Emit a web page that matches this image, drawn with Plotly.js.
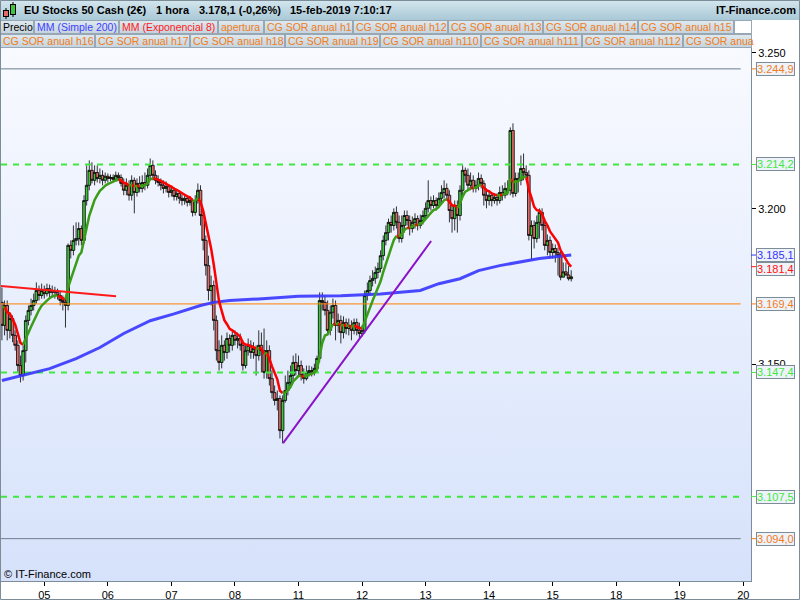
<!DOCTYPE html>
<html><head><meta charset="utf-8">
<script src="https://cdn.plot.ly/plotly-3.0.1.min.js"></script>
<style>html,body{margin:0;padding:0;background:#fff;}#chart{width:800px;height:600px;}</style>
</head><body><div id="chart"></div>
<script>
// ---------------- DATA ----------------
const dayTickIdx = [16,40,64,88,112,136,160,184,208,232,256,280];
const dayTickText = ['05','06','07','08','11','12','13','14','15','18','19','20'];

const openP = [
3169.9,3162.5,3168.9,3160.9,3164.7,3159.3,3156.1,3149.6,3146.4,3154.4,
3164.1,3167.3,3168.9,3170.5,3173.7,3172.1,3173.7,3172.7,3174.3,3173.1,
3173.7,3173.1,3172.1,3170.5,3169.9,3168.9,3188.2,3186.6,3189.8,3190.4,
3193.6,3189.8,3202.6,3207.5,3212.3,3209.1,3211.6,3209.7,3210.7,3209.1,
3210.4,3209.7,3210.0,3209.4,3210.7,3210.0,3208.1,3205.9,3207.5,3204.3,
3209.1,3205.2,3208.1,3206.5,3208.4,3207.5,3210.7,3213.9,3210.7,3209.1,
3208.4,3207.5,3206.5,3207.1,3205.2,3205.9,3203.9,3204.9,3203.3,3202.6,
3203.3,3202.0,3202.6,3198.8,3202.6,3205.9,3197.8,3189.8,3181.7,3173.7,
3175.3,3164.1,3154.4,3150.6,3156.1,3153.8,3158.3,3156.1,3159.3,3157.7,
3158.3,3156.1,3149.6,3154.4,3156.1,3153.8,3155.1,3152.8,3156.1,3154.4,
3147.4,3154.4,3145.4,3140.9,3138.4,3139.0,3128.7,3138.4,3141.6,3144.2,
3146.4,3150.6,3148.0,3149.6,3146.4,3145.4,3147.4,3148.0,3147.4,3148.7,
3151.9,3170.5,3169.9,3167.3,3160.9,3166.7,3168.9,3162.5,3164.1,3160.2,
3163.4,3161.5,3162.5,3160.9,3163.4,3160.9,3159.9,3160.9,3172.1,3173.7,
3176.9,3177.6,3179.5,3180.8,3184.9,3189.8,3192.3,3195.6,3194.6,3198.8,
3195.6,3190.4,3194.6,3197.8,3196.2,3193.6,3195.6,3196.8,3194.6,3196.2,
3197.8,3200.1,3202.6,3201.0,3202.6,3201.0,3203.3,3205.2,3206.5,3204.3,
3199.4,3196.8,3201.0,3197.8,3205.9,3212.3,3210.7,3207.5,3209.1,3206.5,
3207.5,3209.7,3208.1,3204.3,3202.6,3204.3,3202.6,3203.6,3202.6,3205.2,
3204.3,3206.5,3205.9,3225.1,3204.9,3209.7,3209.1,3212.9,3211.6,3210.7,
3191.4,3194.6,3190.4,3195.6,3198.8,3194.6,3188.2,3189.8,3185.9,3187.2,
3185.9,3185.0,3178.0,3179.7,3178.7,3177.5];

const highP = [
3174.7,3170.5,3170.5,3166.7,3165.7,3160.9,3157.7,3152.8,3156.1,3165.7,
3168.9,3171.1,3172.7,3176.3,3175.3,3175.9,3175.3,3175.9,3175.6,3175.3,
3174.9,3174.3,3173.4,3172.1,3171.8,3188.8,3189.8,3194.6,3195.6,3195.6,
3194.6,3204.3,3213.9,3215.5,3214.9,3213.9,3213.9,3212.9,3212.3,3211.6,
3211.3,3211.0,3211.0,3211.9,3211.6,3211.0,3209.7,3209.7,3209.1,3210.7,
3210.0,3209.7,3210.4,3210.7,3211.6,3212.9,3216.1,3215.5,3212.3,3210.7,
3209.7,3209.1,3208.8,3207.8,3207.1,3206.8,3206.2,3205.9,3204.6,3204.3,
3203.9,3203.9,3203.3,3204.3,3208.1,3207.5,3199.4,3191.4,3184.9,3178.5,
3176.9,3165.7,3157.7,3159.3,3157.7,3160.2,3159.6,3160.9,3160.9,3160.2,
3159.9,3157.7,3156.1,3158.3,3157.7,3157.1,3156.1,3160.9,3160.2,3161.5,
3157.7,3156.1,3148.0,3143.2,3141.6,3140.0,3140.0,3146.4,3148.0,3149.6,
3152.8,3153.5,3152.8,3151.2,3148.7,3149.6,3149.6,3149.3,3150.2,3152.8,
3173.1,3173.1,3172.1,3170.5,3168.9,3171.1,3170.5,3166.3,3165.7,3165.4,
3164.7,3164.7,3164.1,3164.7,3164.7,3163.4,3162.5,3173.7,3176.3,3178.5,
3180.2,3181.4,3182.7,3186.6,3191.4,3194.6,3196.8,3197.8,3200.1,3200.7,
3197.8,3197.8,3199.4,3199.4,3197.8,3197.5,3198.5,3197.8,3198.1,3199.4,
3202.0,3209.1,3203.9,3204.3,3203.6,3205.2,3207.5,3209.1,3208.1,3205.9,
3201.6,3202.6,3202.6,3207.5,3213.9,3213.2,3212.9,3211.6,3210.7,3209.1,
3211.6,3211.0,3209.1,3206.5,3205.9,3205.2,3204.9,3204.9,3207.1,3207.5,
3208.4,3209.1,3226.1,3227.4,3211.6,3211.6,3217.1,3217.7,3213.9,3212.3,
3196.2,3196.2,3197.8,3200.1,3200.1,3196.8,3191.7,3191.1,3188.8,3188.5,
3187.5,3186.6,3182.7,3182.7,3181.7,3180.2];

const lowP = [
3157.7,3159.3,3157.7,3158.3,3157.1,3154.4,3147.4,3144.2,3144.8,3150.6,
3162.5,3165.7,3167.3,3169.5,3170.5,3171.1,3171.1,3171.8,3171.4,3171.8,
3171.1,3170.8,3168.9,3167.3,3161.8,3167.3,3184.0,3185.0,3188.2,3188.2,
3188.2,3188.8,3201.0,3205.9,3208.1,3207.5,3208.4,3208.1,3207.5,3208.1,
3208.4,3208.8,3208.4,3208.8,3209.1,3207.1,3204.3,3204.3,3202.6,3202.6,
3198.5,3203.9,3205.2,3205.2,3205.9,3206.5,3209.7,3209.1,3207.8,3207.1,
3205.9,3204.9,3205.2,3203.6,3203.9,3202.6,3202.6,3201.6,3201.0,3201.3,
3200.7,3201.0,3197.5,3197.8,3201.6,3194.6,3186.6,3178.5,3170.5,3168.9,
3160.9,3151.2,3148.0,3148.7,3151.2,3151.8,3153.8,3154.4,3156.1,3155.1,
3154.4,3148.0,3148.7,3152.8,3151.8,3151.8,3146.4,3151.2,3147.4,3145.4,
3145.4,3143.2,3139.0,3136.8,3135.2,3126.2,3124.6,3137.7,3140.0,3142.2,
3144.8,3146.4,3146.4,3144.8,3143.8,3144.8,3146.1,3146.1,3146.4,3147.4,
3150.6,3167.3,3165.7,3159.3,3159.3,3164.7,3157.7,3160.2,3156.7,3158.3,
3159.6,3159.3,3157.7,3159.6,3159.3,3158.3,3158.9,3159.9,3170.5,3172.1,
3175.0,3175.9,3177.6,3179.5,3183.4,3188.2,3189.8,3192.3,3193.0,3193.6,
3189.1,3189.1,3192.3,3194.6,3191.4,3192.3,3193.6,3193.0,3193.6,3194.9,
3196.8,3198.8,3199.4,3200.1,3199.4,3200.1,3201.6,3203.3,3202.6,3195.6,
3192.3,3193.0,3192.3,3196.2,3204.3,3208.4,3205.9,3205.9,3205.2,3205.2,
3205.9,3206.5,3201.0,3200.1,3201.0,3200.7,3201.6,3201.0,3201.6,3202.6,
3203.3,3204.3,3204.3,3203.6,3203.9,3205.2,3207.5,3209.1,3209.1,3189.8,
3183.4,3187.2,3189.1,3190.4,3193.0,3186.6,3185.0,3184.0,3184.0,3182.7,
3178.5,3177.0,3177.9,3178.5,3176.9,3176.6];

const closeP = [
3162.5,3168.9,3160.9,3164.7,3159.3,3156.1,3149.6,3146.4,3154.4,3164.1,
3167.3,3168.9,3170.5,3173.7,3172.1,3173.7,3172.7,3174.3,3173.1,3173.7,
3173.1,3172.1,3170.5,3169.9,3168.9,3188.2,3186.6,3189.8,3190.4,3193.6,
3189.8,3202.6,3207.5,3212.3,3209.1,3211.6,3209.7,3210.7,3209.1,3210.4,
3209.7,3210.0,3209.4,3210.7,3210.0,3208.1,3205.9,3207.5,3204.3,3209.1,
3205.2,3208.1,3206.5,3208.4,3207.5,3210.7,3213.9,3210.7,3209.1,3208.4,
3207.5,3206.5,3207.1,3205.2,3205.9,3203.9,3204.9,3203.3,3202.6,3203.3,
3202.0,3202.6,3198.8,3202.6,3205.9,3197.8,3189.8,3181.7,3173.7,3175.3,
3164.1,3154.4,3150.6,3156.1,3153.8,3158.3,3156.1,3159.3,3157.7,3158.3,
3156.1,3149.6,3154.4,3156.1,3153.8,3155.1,3152.8,3156.1,3154.4,3147.4,
3154.4,3145.4,3140.9,3138.4,3139.0,3128.7,3138.4,3141.6,3144.2,3146.4,
3150.6,3148.0,3149.6,3146.4,3145.4,3147.4,3148.0,3147.4,3148.7,3151.9,
3170.5,3169.9,3167.3,3160.9,3166.7,3168.9,3162.5,3164.1,3160.2,3163.4,
3161.5,3162.5,3160.9,3163.4,3160.9,3159.9,3160.9,3172.1,3173.7,3176.9,
3177.6,3179.5,3180.8,3184.9,3189.8,3192.3,3195.6,3194.6,3198.8,3195.6,
3190.4,3194.6,3197.8,3196.2,3193.6,3195.6,3196.8,3194.6,3196.2,3197.8,
3200.1,3202.6,3201.0,3202.6,3201.0,3203.3,3205.2,3206.5,3204.3,3199.4,
3196.8,3201.0,3197.8,3205.9,3212.3,3210.7,3207.5,3209.1,3206.5,3207.5,
3209.7,3208.1,3204.3,3202.6,3204.3,3202.6,3203.6,3202.6,3205.2,3204.3,
3206.5,3205.9,3225.1,3204.9,3209.7,3209.1,3212.9,3211.6,3210.7,3191.4,
3194.6,3190.4,3195.6,3198.8,3194.6,3188.2,3189.8,3185.9,3187.2,3185.9,
3185.0,3178.0,3179.7,3178.7,3177.5,3178.1];

// Simple moving average 200 (at these bars)
const smaIdx = [0,9,18,28,37,46,56,65,75,80,86,97,112,128,143,158,165,173,180,188,196,203,215];
const smaVal = [3144.8,3146.7,3148.6,3151.8,3155.4,3159.9,3164.0,3166.2,3168.9,3169.9,3170.5,3171.0,3171.9,3172.0,3172.6,3173.7,3175.9,3177.5,3180.1,3181.7,3182.8,3184.0,3185.1];

// Exponential moving average 8
const emaPeriod = 8;
const emaStart = 3169.9;

// Horizontal levels: resistance/support, opening
const levelVals = [3244.9, 3214.2, 3169.4, 3147.4, 3107.5, 3094.0];
const levelKind = ['sor', 'dash', 'open', 'dash', 'dash', 'sor'];

// Trend lines (bar index, price)
const redTrendX = [-0.7, 43.1];
const redTrendY = [3175.2, 3171.9];
const purpleTrendX = [106.2, 162.1];
const purpleTrendY = [3124.7, 3189.6];

const instrument = 'EU Stocks 50 Cash (2€)';
const timeframe = '1 hora';
const pctChange = -0.26;
const stamp = '15-feb-2019 7:10:17';
const siteName = 'IT-Finance.com';

const legendRow1 = ['Precio','MM (Simple 200)','MM (Exponencial 8)','apertura','CG SOR anual h1','CG SOR anual h12','CG SOR anual h13','CG SOR anual h14','CG SOR anual h15'];
const legendRow2 = ['CG SOR anual h16','CG SOR anual h17','CG SOR anual h18','CG SOR anual h19','CG SOR anual h110','CG SOR anual h111','CG SOR anual h112','CG SOR anua'];

// ---------------- LAYOUT HELPERS ----------------
const FONT = 'Liberation Sans, Arial, sans-serif';
const PL = 1, PR = 751, PT = 48, PB = 581;
const Y0 = 3080.4, Y1 = 3251.6;
const px = x => (x - PL) / (PR - PL);
const py = y => (PB - y) / (PB - PT);
const pxPerPt = (PB - PT) / (Y1 - Y0);

function fmt(v, dec) {
  const s = Math.abs(v).toFixed(dec);
  const parts = s.split('.');
  const ip = parts[0].replace(/\B(?=(\d{3})+(?!\d))/g, '.');
  return (v < 0 ? '-' : '') + ip + (parts[1] !== undefined ? ',' + parts[1] : '');
}

const C_ORANGE = '#f07c1c', C_GREEN = '#3fe83f', C_BLUE = '#3535ff', C_RED = '#ff1010';

// ---------------- TRACES ----------------
const idx = closeP.map((_, i) => i);
const traces = [];

traces.push({
  type: 'candlestick', x: idx, open: openP, high: highP, low: lowP, close: closeP,
  increasing: {line: {color: '#000', width: 0.8}, fillcolor: '#3ec43e'},
  decreasing: {line: {color: '#000', width: 0.8}, fillcolor: '#e26a6a'},
  whiskerwidth: 0, hoverinfo: 'skip', showlegend: false
});

const levelEnd = 279;
levelVals.forEach((v, k) => {
  const kind = levelKind[k];
  let line;
  if (kind === 'dash') line = {color: C_GREEN, width: 2, dash: '6px,6px'};
  else if (kind === 'open') line = {color: '#ff8000', width: 1};
  else line = {color: '#6d7d8c', width: 1};
  traces.push({type: 'scatter', mode: 'lines', x: [-0.35, levelEnd], y: [v, v], line, hoverinfo: 'skip'});
});

traces.push({type: 'scatter', mode: 'lines', x: smaIdx, y: smaVal,
  line: {color: C_BLUE, width: 3}, opacity: 0.9, hoverinfo: 'skip'});

const kEma = 2 / (emaPeriod + 1);
const ema = [];
let prev = emaStart;
closeP.forEach(c => { prev = prev + kEma * (c - prev); ema.push(prev); });
const gX = [], gY = [], rX = [], rY = [];
let lastUp = null;
for (let i = 1; i < ema.length; i++) {
  const up = ema[i] >= ema[i - 1];
  const X = up ? gX : rX, Y = up ? gY : rY;
  if (lastUp !== up) {
    if (X.length) { X.push(null); Y.push(null); }
    X.push(i - 1); Y.push(ema[i - 1]);
  }
  X.push(i); Y.push(ema[i]);
  lastUp = up;
}
traces.push({type: 'scatter', mode: 'lines', x: rX, y: rY, line: {color: '#ff0000', width: 2.5}, connectgaps: false, hoverinfo: 'skip'});
traces.push({type: 'scatter', mode: 'lines', x: gX, y: gY, line: {color: '#3a9d17', width: 2.5}, connectgaps: false, hoverinfo: 'skip'});

traces.push({type: 'scatter', mode: 'lines', x: redTrendX, y: redTrendY, line: {color: '#ff1a1a', width: 2}, hoverinfo: 'skip'});
traces.push({type: 'scatter', mode: 'lines', x: purpleTrendX, y: purpleTrendY, line: {color: '#8a12c8', width: 2}, hoverinfo: 'skip'});

// ---------------- CHROME (background picture) ----------------
const row1Edges = [0,34,119,218,264,353,448,543,638,734];
const row2Edges = [0,95,190,285,380,481,582,683,752];
let boxes = '';
for (let i = 0; i < row1Edges.length - 1; i++)
  boxes += `<rect x='${row1Edges[i] + 0.5}' y='20.5' width='${row1Edges[i + 1] - row1Edges[i] - 1}' height='13' fill='url(#bx)' stroke='#97a8b4'/>`;
boxes += `<rect x='734.5' y='20.5' width='17' height='13' fill='#ffffff' stroke='#97a8b4'/>`;
for (let i = 0; i < row2Edges.length - 1; i++)
  boxes += `<rect x='${row2Edges[i] + 0.5}' y='34.5' width='${row2Edges[i + 1] - row2Edges[i] - 1}' height='13' fill='url(#bx)' stroke='#97a8b4'/>`;

const svg = `<svg xmlns='http://www.w3.org/2000/svg' width='800' height='600' viewBox='0 0 800 600'>
<defs>
<linearGradient id='hd' x1='0' y1='0' x2='0' y2='1'><stop offset='0' stop-color='#d4e6ee'/><stop offset='1' stop-color='#a9c8d6'/></linearGradient>
<linearGradient id='pl' x1='0' y1='0' x2='0' y2='1'><stop offset='0' stop-color='#f8faff'/><stop offset='1' stop-color='#d6e2fb'/></linearGradient>
<linearGradient id='bx' x1='0' y1='0' x2='0' y2='1'><stop offset='0' stop-color='#dfe9ef'/><stop offset='1' stop-color='#c4d3dd'/></linearGradient>
</defs>
<rect x='0' y='0' width='800' height='20' fill='url(#hd)'/>
<rect x='1' y='48' width='750' height='533' fill='url(#pl)'/>
${boxes}
<line x1='6' y1='8' x2='6' y2='19' stroke='#000'/>
<rect x='3.5' y='10.5' width='5' height='6' fill='#e26a6a' stroke='#000'/>
<line x1='13' y1='2' x2='13' y2='17' stroke='#000'/>
<rect x='10.5' y='4.5' width='5' height='10' fill='#3ec43e' stroke='#000'/>
</svg>`;

// ---------------- ANNOTATIONS ----------------
const ann = [];
const hdrFont = {family: FONT, size: 11, color: '#000'};
const lastClose = closeP[closeP.length - 1];
[[23, instrument], [155, timeframe], [198, fmt(lastClose, 1) + ' (' + fmt(pctChange, 2) + '%)'], [289, stamp]].forEach(([x, t]) => {
  ann.push({xref: 'paper', yref: 'paper', x: px(x), y: py(10.5), xanchor: 'left', yanchor: 'middle',
    text: '<b>' + t + '</b>', showarrow: false, font: hdrFont, borderpad: 0});
});
ann.push({xref: 'paper', yref: 'paper', x: px(797), y: py(10.5), xanchor: 'right', yanchor: 'middle',
  text: '<b>' + siteName + '</b>', showarrow: false, font: hdrFont, borderpad: 0});

const row1Colors = ['#000000', '#4040ff', '#ff1a1a', C_ORANGE, C_ORANGE, C_ORANGE, C_ORANGE, C_ORANGE, C_ORANGE];
legendRow1.forEach((t, i) => ann.push({xref: 'paper', yref: 'paper', x: px(row1Edges[i] + 2), y: py(27.5),
  xanchor: 'left', yanchor: 'middle', text: t, showarrow: false, borderpad: 0,
  font: {family: FONT, size: 10.5, color: row1Colors[i]}}));
legendRow2.forEach((t, i) => ann.push({xref: 'paper', yref: 'paper', x: px(row2Edges[i] + 2), y: py(41.5),
  xanchor: 'left', yanchor: 'middle', text: t, showarrow: false, borderpad: 0,
  font: {family: FONT, size: 10.5, color: C_ORANGE}}));

ann.push({xref: 'paper', yref: 'paper', x: px(3), y: py(574), xanchor: 'left', yanchor: 'middle',
  text: '© ' + siteName, showarrow: false, borderpad: 0, font: {family: FONT, size: 11, color: '#000'}});

// value boxes on the price axis (stacked so they never overlap)
const shapes = [];
const valueTags = [];
levelVals.forEach((v, k) => valueTags.push([v, levelKind[k] === 'dash' ? C_GREEN : C_ORANGE]));
valueTags.push([smaVal[smaVal.length - 1], C_BLUE]);
valueTags.push([ema[ema.length - 1], C_RED]);
valueTags.sort((a, b) => b[0] - a[0]);
const BOXH = 13.5;
let lastPix = -1e9;
valueTags.forEach(([v, col]) => {
  const pix = PT + (Y1 - v) * pxPerPt;
  const place = Math.max(pix, lastPix + BOXH);
  lastPix = place;
  ann.push({xref: 'paper', yref: 'y', x: 1, xshift: 5, y: v, yshift: -(place - pix), xanchor: 'left', yanchor: 'middle',
    text: fmt(v, 1), showarrow: false, bgcolor: '#eef2f9', bordercolor: '#7d8c99', borderwidth: 1, borderpad: 0,
    font: {family: FONT, size: 11, color: col}});
  shapes.push({type: 'line', xref: 'paper', yref: 'y', x0: 1, x1: 1 + 5 / 750, y0: v, y1: v, line: {color: col, width: 1}});
});
// outer frame
shapes.push({type: 'rect', xref: 'paper', yref: 'paper', x0: px(0.5), x1: px(799.5), y0: py(599.5), y1: py(0.5),
  line: {color: '#7d8c99', width: 1}, fillcolor: 'rgba(0,0,0,0)'});

const layout = {
  width: 800, height: 600,
  margin: {l: 1, r: 49, t: 48, b: 19, pad: 0},
  paper_bgcolor: '#ffffff', plot_bgcolor: 'rgba(0,0,0,0)',
  separators: ',.', showlegend: false, boxgap: 0, boxgroupgap: 0,
  font: {family: FONT, size: 11, color: '#000'},
  xaxis: {range: [-0.35, 282.9], tickvals: dayTickIdx, ticktext: dayTickText, ticks: 'outside', ticklen: 4,
    tickcolor: '#000', tickfont: {family: FONT, size: 11, color: '#000'}, showline: true, linecolor: '#7d8c99',
    showgrid: false, zeroline: false, rangeslider: {visible: false}, fixedrange: true},
  yaxis: {side: 'right', range: [Y0, Y1], tickvals: [3150, 3200, 3250], tickformat: ',d', ticks: 'outside',
    ticklen: 4, tickcolor: '#000', tickfont: {family: FONT, size: 11, color: '#000'}, showline: true,
    linecolor: '#7d8c99', showgrid: false, zeroline: false, fixedrange: true},
  images: [{source: 'data:image/svg+xml;charset=utf-8,' + encodeURIComponent(svg), xref: 'paper', yref: 'paper',
    x: px(0), y: py(0), sizex: 800 / 750, sizey: 600 / 533, xanchor: 'left', yanchor: 'top', sizing: 'stretch', layer: 'below'}],
  shapes, annotations: ann
};

Plotly.newPlot('chart', traces, layout, {staticPlot: true, displayModeBar: false});
</script></body></html>
